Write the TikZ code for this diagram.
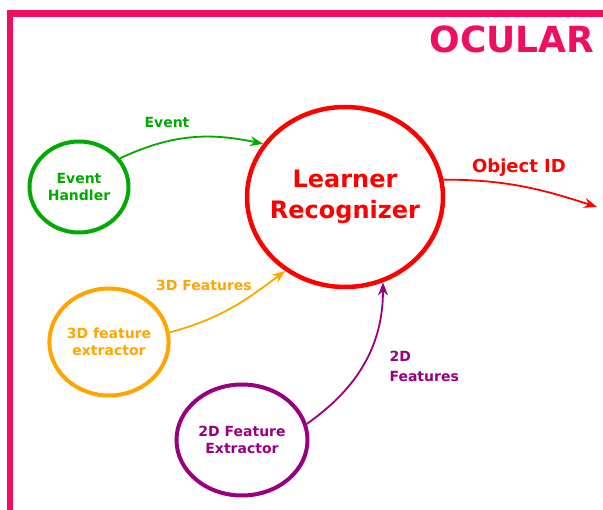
\documentclass[tikz,border=0pt]{standalone}
\usepackage{fontspec}
\setmainfont{DejaVu Sans}
\usetikzlibrary{shapes.geometric,arrows.meta}
\definecolor{cgreen}{RGB}{0,170,0}
\definecolor{cred}{RGB}{255,0,0}
\definecolor{corange}{RGB}{255,165,0}
\definecolor{cpurple}{RGB}{153,0,128}
\definecolor{cpink}{RGB}{240,14,96}
\tikzset{
  proc/.style={ellipse, line width=4pt, inner sep=0pt, align=center, font=\bfseries\fontsize{14}{17}\selectfont},
  flow/.style={line width=1.8pt, -{Stealth[length=13pt,width=10pt]}},
  lbl/.style={font=\bfseries\fontsize{14}{20}\selectfont},
}
\begin{document}
\begin{tikzpicture}[x=1pt,y=-1pt]
\useasboundingbox (0,0) rectangle (603,510);
\draw[cpink, line width=6.5pt] (10,520) -- (10,13.5) -- (620,13.5);
\node[anchor=east, text=cpink, font=\bfseries\fontsize{36}{40}\selectfont] (title) at (598,39) {OCULAR};

\node[proc, draw=cgreen, text=cgreen, minimum width=99pt, minimum height=91pt] (eh) at (79,187) {Event\\Handler};
\node[proc, draw=cred, text=cred, line width=4.5pt, inner xsep=-8pt, minimum width=196pt, minimum height=180pt, font=\bfseries\fontsize{24}{31}\selectfont] (lr) at (345,197) {Learner\\Recognizer};
\node[proc, draw=corange, text=corange, minimum width=119pt, minimum height=107pt] (fe3) at (109,342) {3D feature\\extractor};
\node[proc, draw=cpurple, text=cpurple, minimum width=131pt, minimum height=111pt] (fe2) at (242,440) {2D Feature\\Extractor};
\coordinate (out) at (597,207);

\draw[flow, cgreen] (eh.35) to[out=25, in=168] (lr.147);
\draw[flow, corange] (fe3.9) to[out=15, in=217] (lr.231);
\draw[flow, cpurple] (fe2.14) to[out=35, in=270] (lr.294);
\draw[flow, cred] (lr.10) to[out=0, in=162] (out);

\node[lbl, text=cgreen] (levent) at (167,123) {Event};
\node[lbl, text=corange] (l3d) at (204,285) {3D Features};
\node[lbl, text=cpurple, anchor=west, align=left] (l2d) at (386,366) {2D\\Features};
\node[text=cred, font=\bfseries\fontsize{18}{20}\selectfont] (lid) at (519,168) {Object ID};
\end{tikzpicture}
\end{document}
